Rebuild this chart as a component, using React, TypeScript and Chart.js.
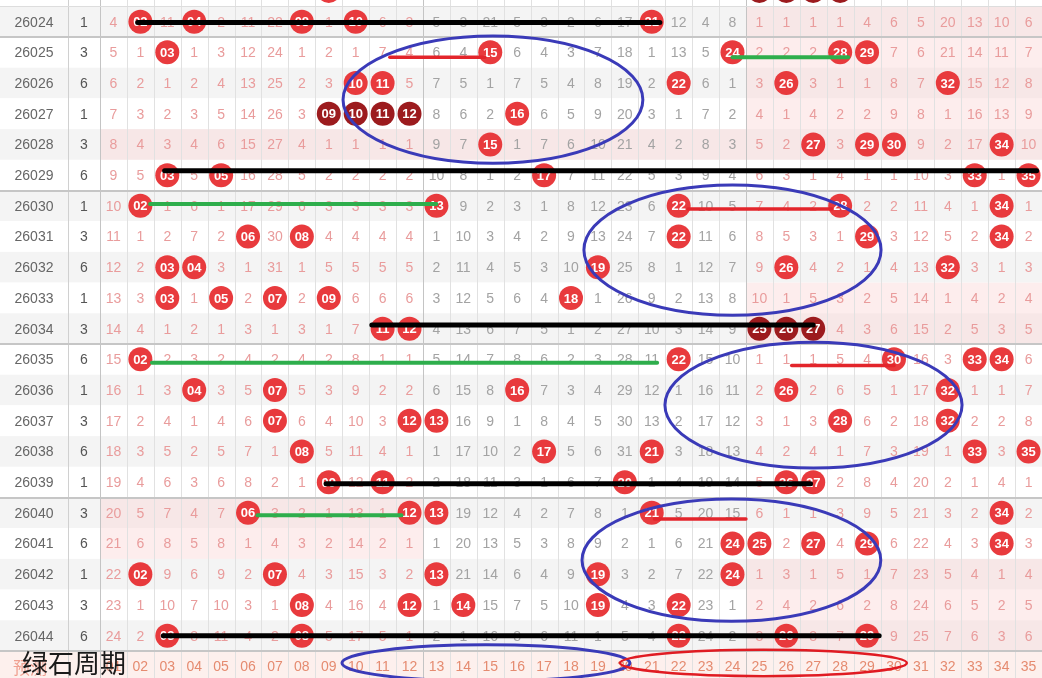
import { useEffect, useRef } from 'react';
import { Chart, registerables } from 'chart.js';

Chart.register(...registerables);

// ---------------- data ----------------
const issues = ['26024', '26025', '26026', '26027', '26028', '26029', '26030', '26031', '26032', '26033', '26034',
  '26035', '26036', '26037', '26038', '26039', '26040', '26041', '26042', '26043', '26044'];
const groupMarks = [1, 3, 6, 1, 3, 6, 1, 3, 6, 1, 3, 6, 1, 3, 6, 1, 3, 6, 1, 3, 6];

// omission per number 01..35 (0 = drawn in that issue)
const o26024 = [4, 0, 11, 0, 2, 11, 22, 0, 1, 0, 6, 3, 5, 3, 21, 5, 3, 2, 6, 17, 0, 12, 4, 8, 1, 1, 1, 1, 4, 6, 5, 20, 13, 10, 6];
const o26025 = [5, 1, 0, 1, 3, 12, 24, 1, 2, 1, 7, 4, 6, 4, 0, 6, 4, 3, 7, 18, 1, 13, 5, 0, 2, 2, 2, 0, 0, 7, 6, 21, 14, 11, 7];
const o26026 = [6, 2, 1, 2, 4, 13, 25, 2, 3, 0, 0, 5, 7, 5, 1, 7, 5, 4, 8, 19, 2, 0, 6, 1, 3, 0, 3, 1, 1, 8, 7, 0, 15, 12, 8];
const o26027 = [7, 3, 2, 3, 5, 14, 26, 3, 0, 0, 0, 0, 8, 6, 2, 0, 6, 5, 9, 20, 3, 1, 7, 2, 4, 1, 4, 2, 2, 9, 8, 1, 16, 13, 9];
const o26028 = [8, 4, 3, 4, 6, 15, 27, 4, 1, 1, 1, 1, 9, 7, 0, 1, 7, 6, 10, 21, 4, 2, 8, 3, 5, 2, 0, 3, 0, 0, 9, 2, 17, 0, 10];
const o26029 = [9, 5, 0, 5, 0, 16, 28, 5, 2, 2, 2, 2, 10, 8, 1, 2, 0, 7, 11, 22, 5, 3, 9, 4, 6, 3, 1, 4, 1, 1, 10, 3, 0, 1, 0];
const o26030 = [10, 0, 1, 6, 1, 17, 29, 6, 3, 3, 3, 3, 0, 9, 2, 3, 1, 8, 12, 23, 6, 0, 10, 5, 7, 4, 2, 0, 2, 2, 11, 4, 1, 0, 1];
const o26031 = [11, 1, 2, 7, 2, 0, 30, 0, 4, 4, 4, 4, 1, 10, 3, 4, 2, 9, 13, 24, 7, 0, 11, 6, 8, 5, 3, 1, 0, 3, 12, 5, 2, 0, 2];
const o26032 = [12, 2, 0, 0, 3, 1, 31, 1, 5, 5, 5, 5, 2, 11, 4, 5, 3, 10, 0, 25, 8, 1, 12, 7, 9, 0, 4, 2, 1, 4, 13, 0, 3, 1, 3];
const o26033 = [13, 3, 0, 1, 0, 2, 0, 2, 0, 6, 6, 6, 3, 12, 5, 6, 4, 0, 1, 26, 9, 2, 13, 8, 10, 1, 5, 3, 2, 5, 14, 1, 4, 2, 4];
const o26034 = [14, 4, 1, 2, 1, 3, 1, 3, 1, 7, 0, 0, 4, 13, 6, 7, 5, 1, 2, 27, 10, 3, 14, 9, 0, 0, 0, 4, 3, 6, 15, 2, 5, 3, 5];
const o26035 = [15, 0, 2, 3, 2, 4, 2, 4, 2, 8, 1, 1, 5, 14, 7, 8, 6, 2, 3, 28, 11, 0, 15, 10, 1, 1, 1, 5, 4, 0, 16, 3, 0, 0, 6];
const o26036 = [16, 1, 3, 0, 3, 5, 0, 5, 3, 9, 2, 2, 6, 15, 8, 0, 7, 3, 4, 29, 12, 1, 16, 11, 2, 0, 2, 6, 5, 1, 17, 0, 1, 1, 7];
const o26037 = [17, 2, 4, 1, 4, 6, 0, 6, 4, 10, 3, 0, 0, 16, 9, 1, 8, 4, 5, 30, 13, 2, 17, 12, 3, 1, 3, 0, 6, 2, 18, 0, 2, 2, 8];
const o26038 = [18, 3, 5, 2, 5, 7, 1, 0, 5, 11, 4, 1, 1, 17, 10, 2, 0, 5, 6, 31, 0, 3, 18, 13, 4, 2, 4, 1, 7, 3, 19, 1, 0, 3, 0];
const o26039 = [19, 4, 6, 3, 6, 8, 2, 1, 0, 12, 0, 2, 2, 18, 11, 3, 1, 6, 7, 0, 1, 4, 19, 14, 5, 0, 0, 2, 8, 4, 20, 2, 1, 4, 1];
const o26040 = [20, 5, 7, 4, 7, 0, 3, 2, 1, 13, 1, 0, 0, 19, 12, 4, 2, 7, 8, 1, 0, 5, 20, 15, 6, 1, 1, 3, 9, 5, 21, 3, 2, 0, 2];
const o26041 = [21, 6, 8, 5, 8, 1, 4, 3, 2, 14, 2, 1, 1, 20, 13, 5, 3, 8, 9, 2, 1, 6, 21, 0, 0, 2, 0, 4, 0, 6, 22, 4, 3, 0, 3];
const o26042 = [22, 0, 9, 6, 9, 2, 0, 4, 3, 15, 3, 2, 0, 21, 14, 6, 4, 9, 0, 3, 2, 7, 22, 0, 1, 3, 1, 5, 1, 7, 23, 5, 4, 1, 4];
const o26043 = [23, 1, 10, 7, 10, 3, 1, 0, 4, 16, 4, 0, 1, 0, 15, 7, 5, 10, 0, 4, 3, 0, 23, 1, 2, 4, 2, 6, 2, 8, 24, 6, 5, 2, 5];
const o26044 = [24, 2, 0, 8, 11, 4, 2, 0, 5, 17, 5, 1, 2, 1, 16, 8, 6, 11, 1, 5, 4, 0, 24, 2, 3, 0, 3, 7, 0, 9, 25, 7, 6, 3, 6];
const omissionRows = [o26024, o26025, o26026, o26027, o26028, o26029, o26030, o26031, o26032, o26033, o26034,
  o26035, o26036, o26037, o26038, o26039, o26040, o26041, o26042, o26043, o26044];

// issue 26023 (only its lower edge is visible at the top)
const drawn26023 = [9, 25, 26, 27, 28];

const footerLabels = ['01', '02', '03', '04', '05', '06', '07', '08', '09', '10', '11', '12', '13', '14', '15', '16', '17', '18',
  '19', '20', '21', '22', '23', '24', '25', '26', '27', '28', '29', '30', '31', '32', '33', '34', '35'];
const footerTitle = '预测';
const overlayTitle = '绿石周期';

// hand-drawn annotations, in (number, issue-row) units
const blackStrokes = [
  { row: 0.03, from: 1.9, to: 21.3 },
  { row: 4.86, from: 2.9, to: 35.3 },
  { row: 9.88, from: 10.6, to: 27.0 },
  { row: 15.05, from: 8.9, to: 26.9 },
  { row: 20.0, from: 2.85, to: 29.45 },
];
const greenStrokes = [
  { row: 1.16, from: 24.0, to: 28.3 },
  { row: 5.94, from: 2.36, to: 13.0 },
  { row: 11.11, from: 2.43, to: 21.2 },
  { row: 16.08, from: 6.35, to: 11.7 },
];
const redStrokes = [
  { row: 1.16, from: 11.27, to: 14.8 },
  { row: 6.1, from: 22.35, to: 27.7 },
  { row: 11.2, from: 26.2, to: 30.0 },
  { row: 16.2, from: 21.1, to: 24.5 },
];
const blueRings = [
  { cx: 15.1, cy: 2.54, rx: 5.57, ry: 2.07 },
  { cx: 24.0, cy: 7.44, rx: 5.52, ry: 2.12 },
  { cx: 27.01, cy: 12.49, rx: 5.52, ry: 2.05 },
  { cx: 23.96, cy: 17.54, rx: 5.55, ry: 1.99 },
  { cx: 14.84, cy: 20.89, rx: 5.35, ry: 0.59 },
];
const redRings = [{ cx: 25.15, cy: 20.89, rx: 5.33, ry: 0.43 }];

// pink shaded blocks: [firstRow, lastRow, firstNumber, lastNumber]
const pinkBlocks = [
  [0, 4, 25, 35],
  [4, 4, 1, 24],
  [9, 10, 25, 35],
  [16, 17, 1, 12],
  [18, 20, 25, 35],
];

// ---------------- layout ----------------
const W = 1042;
const H = 678;
const CW = 942 / 35;
const RH = 30.7;
const colX = (px: number) => (px - 100) / CW + 0.5;
const rowY = (px: number) => (px - 37) / RH + 0.5;
const XMIN = colX(0);
const XMAX = colX(W);
const YMIN = rowY(0);
const YMAX = rowY(H);
const ISSUE_X = colX(34);
const MARK_X = colX(84);
const ISSUE_END = colX(68);
const FOOT_ROW = 21;

const FONT = '"Liberation Sans", Arial, sans-serif';
const BALL = '#e83a3d';
const BALL_DARK = '#9c1b1e';
const PINK_TXT = '#e99c9c';
const GRAY_TXT = '#a3a3a3';

function ballColor(row: number[], k: number) {
  let s = k, e = k;
  while (s - 1 >= 0 && row[s - 1] === 0) s--;
  while (e + 1 < row.length && row[e + 1] === 0) e++;
  return e - s + 1 >= 3 ? BALL_DARK : BALL;
}

export default function App() {
  const ref = useRef<HTMLCanvasElement>(null);
  useEffect(() => {
    document.body.style.margin = '0';
    const canvas = ref.current!;

    const ballPts: any[] = [];
    const ballCols: string[] = [];
    omissionRows.forEach((row, i) => {
      row.forEach((v, k) => {
        if (v === 0) {
          ballPts.push({ x: k + 1, y: i, n: k + 1 });
          ballCols.push(ballColor(row, k));
        }
      });
    });
    const prevRow = Array.from({ length: 35 }, (_, k) => (drawn26023.includes(k + 1) ? 0 : 1));
    drawn26023.forEach((n) => {
      ballPts.push({ x: n, y: -1, n });
      ballCols.push(ballColor(prevRow, n - 1));
    });

    const strokeSet = (list: any[], color: string, width: number) =>
      list.map((s) => ({
        data: [{ x: s.from, y: s.row }, { x: s.to, y: s.row }],
        showLine: true,
        borderColor: color,
        borderWidth: width,
        borderCapStyle: 'round',
        pointRadius: 0,
        order: 0,
        clip: false,
      }));

    const datasets: any[] = [
      {
        data: ballPts,
        pointRadius: 12,
        pointBackgroundColor: ballCols,
        pointBorderWidth: 0,
        borderWidth: 0,
        order: 10,
        clip: false,
      },
      ...strokeSet(blackStrokes, '#000000', 5),
      ...strokeSet(greenStrokes, '#2eae4c', 4),
      ...strokeSet(redStrokes, '#e3252b', 3.5),
    ];

    const tablePlugin = {
      id: 'lotteryTable',
      beforeDatasetsDraw(chart: any) {
        const { ctx } = chart;
        const xs = chart.scales.x;
        const ys = chart.scales.y;
        const X = (v: number) => xs.getPixelForValue(v);
        const Y = (v: number) => ys.getPixelForValue(v);
        ctx.save();
        ctx.fillStyle = '#ffffff';
        ctx.fillRect(0, 0, W, H);
        // stripes
        for (let i = -1; i <= 20; i++) {
          ctx.fillStyle = i % 2 === 0 ? '#f4f4f4' : '#ffffff';
          ctx.fillRect(0, Y(i - 0.5), W, Y(i + 0.5) - Y(i - 0.5));
        }
        pinkBlocks.forEach(([r0, r1, c0, c1]) => {
          ctx.fillStyle = 'rgba(250, 215, 215, 0.45)';
          ctx.fillRect(X(c0 - 0.5), Y(r0 - 0.5), X(c1 + 0.5) - X(c0 - 0.5), Y(r1 + 0.5) - Y(r0 - 0.5));
        });
        // footer
        ctx.fillStyle = '#fdf0ed';
        ctx.fillRect(0, Y(FOOT_ROW - 0.5), W, Y(FOOT_ROW + 0.5) - Y(FOOT_ROW - 0.5));

        // vertical grid
        ctx.lineWidth = 1;
        for (let k = 0; k <= 35; k++) {
          const x = Math.round(X(k + 0.5)) + 0.5;
          const strong = k === 0 || k === 12 || k === 24;
          ctx.strokeStyle = strong ? '#c4c4c4' : '#e1e1e1';
          ctx.beginPath();
          ctx.moveTo(x, 0);
          ctx.lineTo(x, H);
          ctx.stroke();
        }
        ctx.strokeStyle = '#d0d0d0';
        ctx.beginPath();
        ctx.moveTo(Math.round(X(ISSUE_END)) + 0.5, 0);
        ctx.lineTo(Math.round(X(ISSUE_END)) + 0.5, H);
        ctx.stroke();
        // horizontal block lines
        [0.5, 5.5, 10.5, 15.5, 20.5].forEach((b) => {
          ctx.strokeStyle = '#c6c6c6';
          ctx.lineWidth = 2;
          ctx.beginPath();
          ctx.moveTo(0, Math.round(Y(b)));
          ctx.lineTo(W, Math.round(Y(b)));
          ctx.stroke();
        });
        ctx.strokeStyle = '#dddddd';
        ctx.lineWidth = 1;
        ctx.beginPath();
        ctx.moveTo(0, Math.round(Y(-0.5)) + 0.5);
        ctx.lineTo(W, Math.round(Y(-0.5)) + 0.5);
        ctx.stroke();

        // texts
        ctx.textAlign = 'center';
        ctx.textBaseline = 'middle';
        omissionRows.forEach((row, i) => {
          const y = Y(i) + 1;
          ctx.font = `14px ${FONT}`;
          ctx.fillStyle = '#666666';
          ctx.fillText(issues[i], X(ISSUE_X), y);
          ctx.fillStyle = '#555555';
          ctx.fillText(String(groupMarks[i]), X(MARK_X), y);
          row.forEach((v, k) => {
            if (v === 0) return;
            const n = k + 1;
            ctx.fillStyle = n >= 13 && n <= 24 ? GRAY_TXT : PINK_TXT;
            ctx.fillText(String(v), X(n), y);
          });
        });
        // footer labels
        ctx.font = `14px ${FONT}`;
        ctx.fillStyle = '#e58b70';
        footerLabels.forEach((t, k) => ctx.fillText(t, X(k + 1), Y(FOOT_ROW) + 1));
        ctx.font = `17px "Noto Sans CJK SC", sans-serif`;
        ctx.fillStyle = '#f0a090';
        ctx.textAlign = 'left';
        ctx.fillText(footerTitle, 13, Y(FOOT_ROW) + 1);
        ctx.restore();
      },
      afterDatasetDraw(chart: any, args: any) {
        if (args.index !== 0) return;
        const { ctx } = chart;
        const xs = chart.scales.x;
        const ys = chart.scales.y;
        ctx.save();
        ctx.font = `bold 13px ${FONT}`;
        ctx.fillStyle = '#ffffff';
        ctx.textAlign = 'center';
        ctx.textBaseline = 'middle';
        ballPts.forEach((p) => {
          ctx.fillText(String(p.n).padStart(2, '0'), xs.getPixelForValue(p.x), ys.getPixelForValue(p.y) + 1);
        });
        ctx.restore();
      },
      afterDatasetsDraw(chart: any) {
        const { ctx } = chart;
        const xs = chart.scales.x;
        const ys = chart.scales.y;
        const ring = (r: any, color: string, w: number) => {
          const cx = xs.getPixelForValue(r.cx);
          const cy = ys.getPixelForValue(r.cy);
          const rx = Math.abs(xs.getPixelForValue(r.cx + r.rx) - cx);
          const ry = Math.abs(ys.getPixelForValue(r.cy + r.ry) - cy);
          ctx.strokeStyle = color;
          ctx.lineWidth = w;
          ctx.beginPath();
          ctx.ellipse(cx, cy, rx, ry, 0, 0, Math.PI * 2);
          ctx.stroke();
        };
        ctx.save();
        blueRings.forEach((r) => ring(r, '#3a3ab8', 3));
        redRings.forEach((r) => ring(r, '#e01b22', 2.5));
        ctx.restore();
      },
      afterDraw(chart: any) {
        const { ctx } = chart;
        const ys = chart.scales.y;
        ctx.save();
        ctx.font = `26px "Noto Sans CJK SC", sans-serif`;
        ctx.fillStyle = '#1a1a1a';
        ctx.textAlign = 'left';
        ctx.textBaseline = 'middle';
        ctx.fillText(overlayTitle, 22, ys.getPixelForValue(FOOT_ROW) - 3);
        ctx.restore();
      },
    };

    const pinX = (s: any) => { s.min = XMIN; s.max = XMAX; };
    const pinY = (s: any) => { s.min = YMIN; s.max = YMAX; };

    const chart = new Chart(canvas, {
      type: 'scatter',
      data: { datasets },
      options: {
        animation: false,
        responsive: false,
        devicePixelRatio: 1,
        events: [],
        layout: { padding: 0, autoPadding: false },
        plugins: { legend: { display: false }, tooltip: { enabled: false } },
        scales: {
          x: { type: 'linear', min: XMIN, max: XMAX, bounds: 'data', display: false, afterBuildTicks: pinX },
          y: { type: 'linear', min: YMIN, max: YMAX, bounds: 'data', reverse: true, display: false, afterBuildTicks: pinY },
        },
      },
      plugins: [tablePlugin],
    } as any);
    return () => chart.destroy();
  }, []);
  return <canvas ref={ref} width={W} height={H} style={{ display: 'block', width: W, height: H }} />;
}
